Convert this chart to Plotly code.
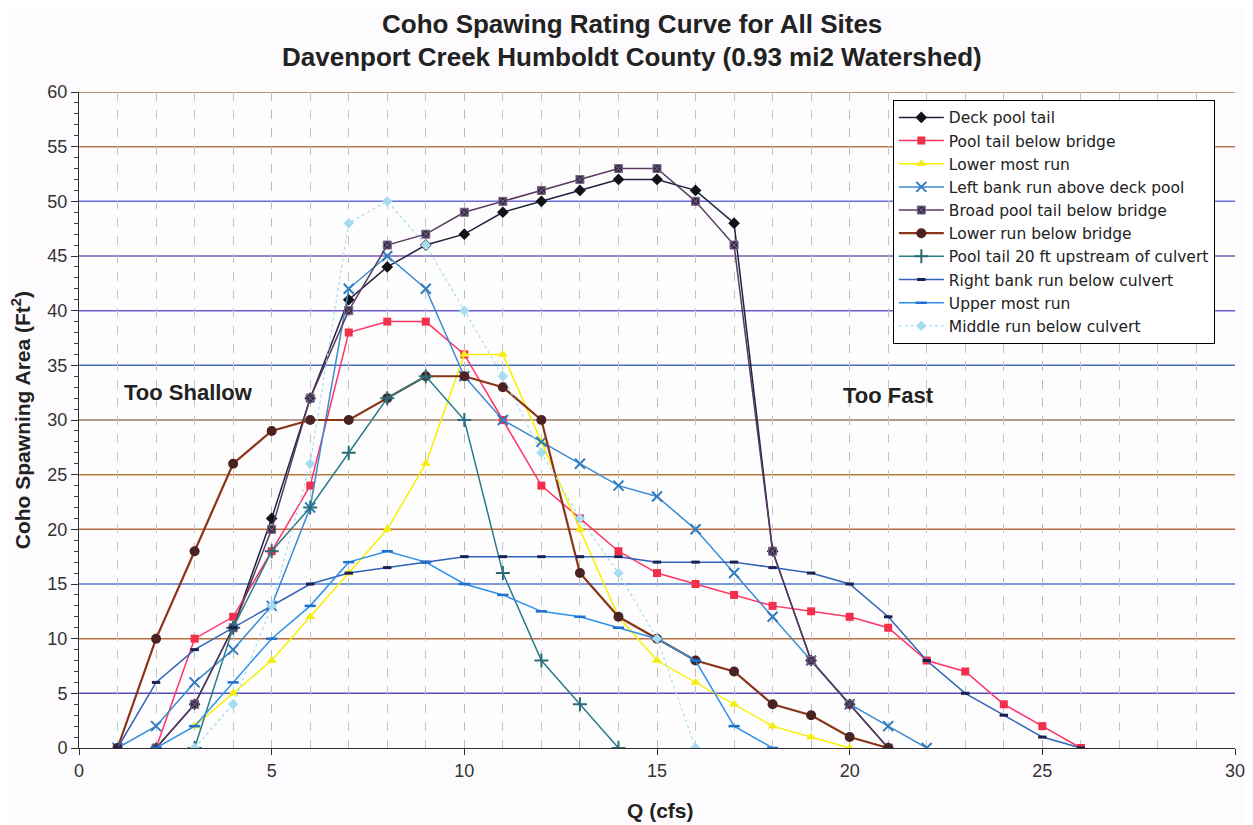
import plotly.graph_objects as go

# ---- data ----
deck_x = list(range(2, 22))
deck_y = [0, 4, 11, 21, 32, 41, 44, 46, 47, 49, 50, 51, 52, 52, 51, 48, 18, 8, 4, 0]

red_x = list(range(2, 27))
red_y = [0, 10, 12, 18, 24, 38, 39, 39, 36, 30, 24, 21, 18, 16, 15, 14, 13, 12.5, 12, 11, 8, 7, 4, 2, 0]

yellow_x = list(range(3, 21))
yellow_y = [2, 5, 8, 12, 16, 20, 26, 36, 36, 28, 20, 12, 8, 6, 4, 2, 1, 0]

left_x = list(range(1, 23))
left_y = [0, 2, 6, 9, 13, 22, 42, 45, 42, 34, 30, 28, 26, 24, 23, 20, 16, 12, 8, 4, 2, 0]

broad_x = list(range(2, 22))
broad_y = [0, 4, 11, 20, 32, 40, 46, 47, 49, 50, 51, 52, 53, 53, 50, 46, 18, 8, 4, 0]

lowrun_x = list(range(1, 22))
lowrun_y = [0, 10, 18, 26, 29, 30, 30, 32, 34, 34, 33, 30, 16, 12, 10, 8, 7, 4, 3, 1, 0]

teal_x = list(range(3, 15))
teal_y = [0, 11, 18, 22, 27, 32, 34, 30, 16, 8, 4, 0]

right_x = list(range(1, 27))
right_y = [0, 6, 9, 11, 13, 15, 16, 16.5, 17, 17.5, 17.5, 17.5, 17.5, 17.5, 17, 17, 17, 16.5, 16, 15, 12, 8, 5, 3, 1, 0]

upper_x = list(range(2, 19))
upper_y = [0, 2, 6, 10, 13, 17, 18, 17, 15, 14, 12.5, 12, 11, 10, 8, 2, 0]

middle_x = list(range(3, 17))
middle_y = [0, 4, 13, 26, 48, 50, 46, 40, 34, 27, 21, 16, 10, 0]

names = ["Deck pool tail", "Pool tail below bridge", "Lower most run",
         "Left bank run above deck pool", "Broad pool tail below bridge",
         "Lower run below bridge", "Pool tail 20 ft upstream of culvert",
         "Right bank run below culvert", "Upper most run", "Middle run below culvert"]

grid_levels = [5, 10, 15, 20, 25, 30, 35, 40, 45, 50, 55, 60]

title_line1 = "Coho Spawing Rating Curve for All Sites"
title_line2 = "Davenport Creek Humboldt County (0.93 mi2 Watershed)"
x_title = "Q (cfs)"
y_title = "Coho Spawning Area (Ft<sup>2</sup>)"

# ---- styles ----
FONT = "Liberation Sans, Arial, sans-serif"
styles = [
    dict(line=dict(color="#1c2340", width=1.5), marker=dict(symbol="diamond", size=9, color="#111318")),
    dict(line=dict(color="#ff3366", width=1.5), marker=dict(symbol="square", size=8, color="#f2304c")),
    dict(line=dict(color="#f7f000", width=1.5), marker=dict(symbol="triangle-up", size=9, color="#f4ee10")),
    dict(line=dict(color="#3c8cd0", width=1.5), marker=dict(symbol="x-thin-open", size=10, color="#2f7cc0", line=dict(width=2, color="#2f7cc0"))),
    dict(line=dict(color="#5a3a5e", width=1.5), marker=dict(symbol="square-x", size=8, color="#3a2a4a", line=dict(width=1, color="#7a6a8a"))),
    dict(line=dict(color="#8a3418", width=2.2), marker=dict(symbol="circle", size=10, color="#4a2222")),
    dict(line=dict(color="#2a7c86", width=1.5), marker=dict(symbol="cross-thin-open", size=10, color="#2a6c76", line=dict(width=2, color="#2a6c76"))),
    dict(line=dict(color="#2f62b8", width=1.5), marker=dict(symbol="line-ew-open", size=6, color="#1a2050", line=dict(width=3, color="#1a2050"))),
    dict(line=dict(color="#2e90e8", width=1.5), marker=dict(symbol="line-ew-open", size=8, color="#2070d0", line=dict(width=2.5, color="#2070d0"))),
    dict(line=dict(color="#a6dcf2", width=1.2, dash="dot"), marker=dict(symbol="diamond", size=8, color="#a6dcf2")),
]
grid_colors = ["#5a4ac0", "#b87040", "#4a78d0", "#b86a40", "#b87a38", "#9a7868",
               "#4a6ab8", "#6a5ad0", "#7a5ab0", "#6a6ad8", "#b87850", "#a87040"]

series = [(deck_x, deck_y), (red_x, red_y), (yellow_x, yellow_y), (left_x, left_y),
          (broad_x, broad_y), (lowrun_x, lowrun_y), (teal_x, teal_y), (right_x, right_y),
          (upper_x, upper_y), (middle_x, middle_y)]

fig = go.Figure()
for (xs, ys), nm, st in zip(series, names, styles):
    fig.add_trace(go.Scatter(x=xs, y=ys, name=nm, mode="lines+markers",
                             line=st["line"], marker=st["marker"]))

for lvl, col in zip(grid_levels, grid_colors):
    fig.add_shape(type="line", xref="paper", x0=0, x1=1, yref="y", y0=lvl, y1=lvl,
                  line=dict(color=col, width=1.5), layer="below")

fig.add_annotation(x=2.83, y=32.5, text="<b>Too Shallow</b>", showarrow=False,
                   font=dict(family=FONT, size=22, color="#222"))
fig.add_annotation(x=21.0, y=32.2, text="<b>Too Fast</b>", showarrow=False,
                   font=dict(family=FONT, size=22, color="#222"))

# titles
fig.add_annotation(xref="paper", yref="paper", x=0.478, y=1.103, text="<b>" + title_line1 + "</b>",
                   showarrow=False, xanchor="center", yanchor="middle",
                   font=dict(family=FONT, size=26, color="#222"))
fig.add_annotation(xref="paper", yref="paper", x=0.478, y=1.053, text="<b>" + title_line2 + "</b>",
                   showarrow=False, xanchor="center", yanchor="middle",
                   font=dict(family=FONT, size=26, color="#222"))
fig.add_annotation(xref="paper", yref="paper", x=0.503, y=-0.095, text="<b>" + x_title + "</b>",
                   showarrow=False, xanchor="center", yanchor="middle",
                   font=dict(family=FONT, size=21, color="#222"))
fig.add_annotation(xref="paper", yref="paper", x=-0.05, y=0.5, text="<b>" + y_title + "</b>",
                   showarrow=False, xanchor="center", yanchor="middle", textangle=-90,
                   font=dict(family=FONT, size=21, color="#222"))

# page body has an 8px default margin, so the figure is sized/offset to compensate
fig.update_layout(
    width=1245, height=817,
    margin=dict(l=71, r=18, t=84, b=77, autoexpand=False),
    paper_bgcolor="#fdfbfd", plot_bgcolor="#fefdfe",
    showlegend=True,
    legend=dict(x=0.704, y=0.988, xanchor="left", yanchor="top",
                bgcolor="#ffffff", bordercolor="#000", borderwidth=1, itemwidth=45,
                font=dict(family="DejaVu Sans, sans-serif", size=15.5, color="#222"), tracegroupgap=0),
    xaxis=dict(range=[0, 30], dtick=5, tick0=0, showgrid=True, gridcolor="#bbbbbb",
               griddash="dash", gridwidth=1, showline=True, linecolor="#333",
               ticks="outside", ticklen=6, tickcolor="#333", zeroline=False, automargin=False,
               minor=dict(dtick=1, showgrid=True, gridcolor="#c4c4c4", griddash="dash"),
               tickfont=dict(family=FONT, size=18, color="#333")),
    yaxis=dict(range=[0, 60], dtick=5, tick0=0, showgrid=False, showline=True,
               linecolor="#333", ticks="outside", ticklen=7, tickcolor="#333", zeroline=False,
               automargin=False,
               minor=dict(dtick=1, ticks="outside", ticklen=4, tickcolor="#444"),
               tickfont=dict(family=FONT, size=18, color="#333")),
)

fig.write_html("out.html")
